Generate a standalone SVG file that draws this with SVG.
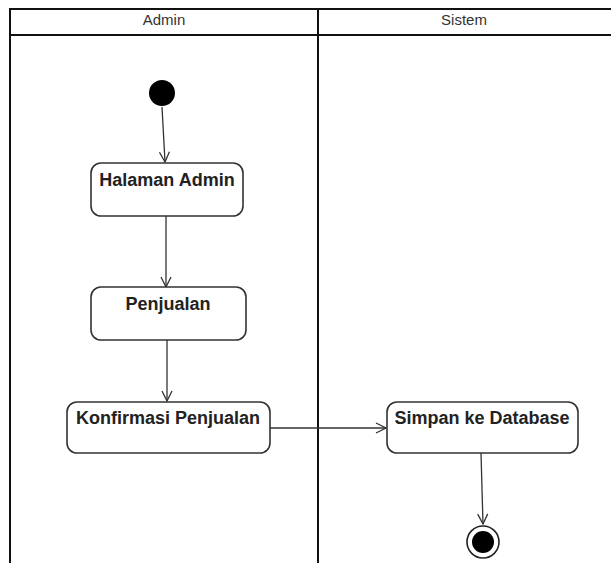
<svg xmlns="http://www.w3.org/2000/svg" width="611" height="563" viewBox="0 0 611 563">
  <defs>
    <style>
      .lane { fill: none; stroke: #111; stroke-width: 2; }
      .lane-title { font-family: "Liberation Sans", Arial, sans-serif; font-size: 15px; fill: #333; text-anchor: middle; }
      .action rect { fill: #fff; stroke: #333; stroke-width: 1.6; }
      .action text { font-family: "Liberation Sans", Arial, sans-serif; font-size: 18px; font-weight: bold; fill: #222; text-anchor: middle; }
      .flow { fill: none; stroke: #333; stroke-width: 1.3; marker-end: url(#open-arrow); }
    </style>
    <marker id="open-arrow" viewBox="0 0 12 12" refX="11" refY="6" markerWidth="12" markerHeight="12" markerUnits="userSpaceOnUse" orient="auto">
      <path d="M1,1 L11,6 L1,11" fill="none" stroke="#333" stroke-width="1.3"/>
    </marker>
  </defs>

  <rect width="611" height="563" fill="#fff"/>

  <!-- swimlanes -->
  <g id="swimlanes">
    <path class="lane" d="M10,563 V9 H611"/>
    <path class="lane" d="M10,35 H611"/>
    <path class="lane" d="M318,9 V563"/>
    <text class="lane-title" x="164" y="25">Admin</text>
    <text class="lane-title" x="464" y="25">Sistem</text>
  </g>

  <!-- connectors -->
  <g id="connectors">
    <path class="flow" d="M162,107 L165,162"/>
    <path class="flow" d="M166,216 L166,287"/>
    <path class="flow" d="M167,340 L167,401"/>
    <path class="flow" d="M270,428 L386,428"/>
    <path class="flow" d="M481,453 L483,524"/>
  </g>

  <g id="start">
    <circle cx="162" cy="93" r="13" fill="#000"/>
  </g>

  <g id="halaman-admin" class="action">
    <rect x="91" y="163" width="152" height="53" rx="10"/>
    <text x="167" y="186">Halaman Admin</text>
  </g>

  <g id="penjualan" class="action">
    <rect x="91" y="287" width="155" height="53" rx="10"/>
    <text x="168" y="310">Penjualan</text>
  </g>

  <g id="konfirmasi-penjualan" class="action">
    <rect x="67" y="402" width="203" height="51" rx="10"/>
    <text x="168" y="424">Konfirmasi Penjualan</text>
  </g>

  <g id="simpan-ke-database" class="action">
    <rect x="387" y="402" width="191" height="51" rx="10"/>
    <text x="482" y="424">Simpan ke Database</text>
  </g>

  <g id="end">
    <circle cx="483" cy="542" r="16" fill="#fff" stroke="#222" stroke-width="1.6"/>
    <circle cx="483" cy="542" r="11" fill="#000"/>
  </g>
</svg>
